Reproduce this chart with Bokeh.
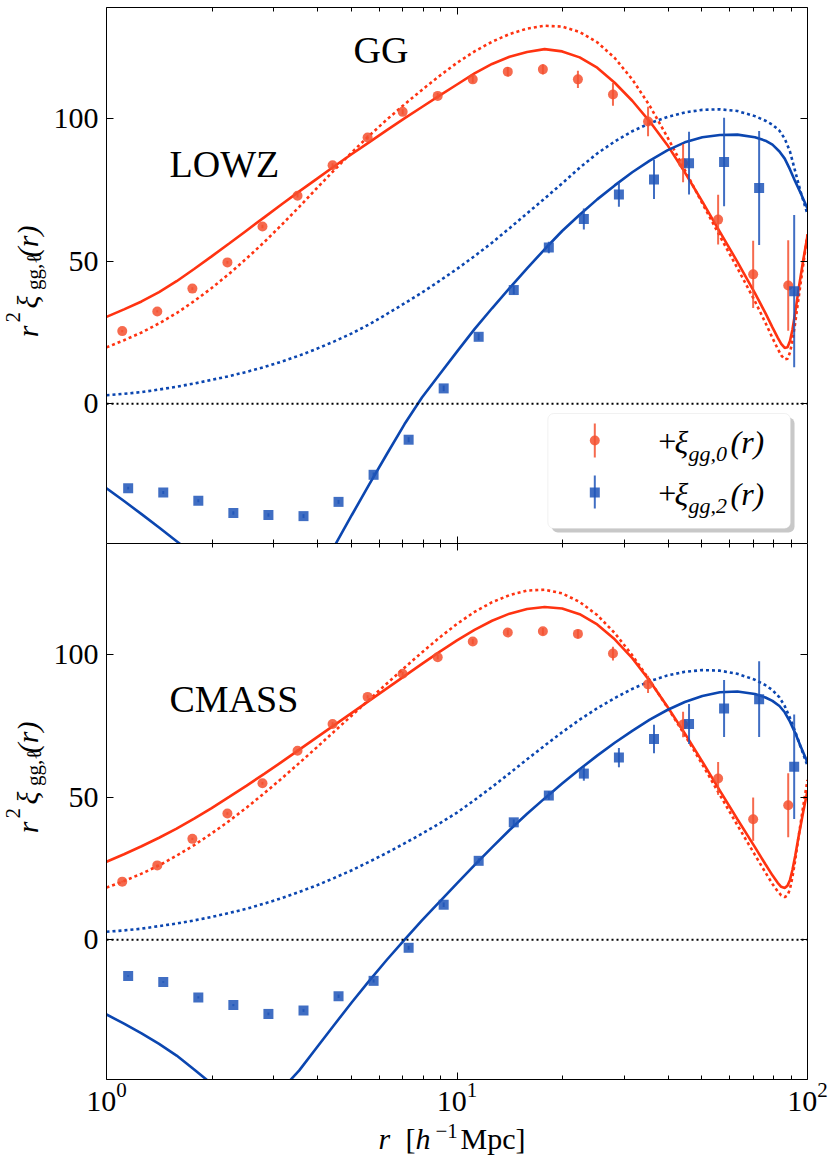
import numpy as np
from bokeh.plotting import figure
from bokeh.models import (Range1d, FixedTicker, LogTickFormatter, CustomJSTickFormatter,
                          LogAxis, LinearAxis, Span, Label, BoxAnnotation)
from bokeh.layouts import column, row
from bokeh.embed import file_html
from bokeh.resources import INLINE

# ---------------- data ----------------
r_xi0 = [1.109, 1.396, 1.758, 2.213, 2.786, 3.508, 4.416, 5.559, 6.998, 8.810,
         11.09, 13.96, 17.58, 22.13, 27.86, 35.08, 44.16, 55.59, 69.98, 88.10]
r_xi2 = [1.153, 1.452, 1.828, 2.301, 2.897, 3.648, 4.592, 5.781, 7.278, 9.162,
         11.53, 14.52, 18.28, 23.01, 28.97, 36.48, 45.92, 57.81, 72.78, 91.62]

lowz_xi0 = [25.5, 32.4, 40.4, 49.6, 62.2, 73.0, 83.7, 93.4, 102.4, 108.0,
            113.8, 116.5, 117.3, 113.8, 108.5, 99.0, 84.4, 64.6, 45.4, 41.5]
lowz_xi0_err = [0.4, 0.4, 0.5, 0.5, 0.6, 0.6, 0.7, 0.8, 0.9, 1.0,
                1.2, 1.6, 1.8, 3.0, 4.0, 5.2, 6.7, 8.7, 11.8, 15.9]
lowz_xi2 = [-29.6, -31.1, -34.0, -38.3, -39.0, -39.4, -34.4, -24.9, -12.6, 5.4,
            23.5, 39.9, 54.8, 64.8, 73.4, 78.7, 84.4, 84.8, 75.7, 39.5]
lowz_xi2_err = [0.5, 0.5, 0.5, 0.6, 0.6, 0.7, 0.7, 0.8, 0.9, 1.0,
                1.2, 1.5, 2.0, 3.7, 4.3, 6.9, 11.0, 15.5, 20.0, 26.7]

cmass_xi0 = [20.4, 26.1, 35.4, 44.3, 54.9, 66.3, 75.7, 85.2, 93.3, 99.1,
             104.6, 107.8, 108.2, 107.3, 100.4, 89.6, 75.5, 56.6, 42.3, 47.2]
cmass_xi0_err = [0.3, 0.3, 0.4, 0.4, 0.5, 0.5, 0.6, 0.6, 0.7, 0.8,
                 0.9, 1.0, 1.2, 1.5, 2.4, 3.0, 4.5, 5.8, 7.6, 11.2]
cmass_xi2 = [-12.7, -14.8, -20.2, -22.9, -26.0, -24.8, -19.8, -14.4, -2.8, 12.3,
             27.7, 41.2, 50.6, 58.3, 63.9, 70.4, 75.7, 81.1, 84.4, 60.7]
cmass_xi2_err = [0.3, 0.3, 0.4, 0.4, 0.5, 0.5, 0.6, 0.6, 0.7, 0.8,
                 0.9, 1.0, 1.5, 2.5, 3.4, 5.0, 7.0, 10.0, 13.3, 18.3]

# model curves: log10(r) positions where the curves were read, and the values
lr_a = [0, .05, .1, .15, .2, .25, .3, .35, .4, .45, .5, .55, .6, .65, .7, .75, .8, .85, .9, .95,
        1.0, 1.05, 1.1, 1.15, 1.2, 1.25, 1.3, 1.35, 1.4, 1.45, 1.5, 1.55, 1.6, 1.65, 1.7, 1.75,
        1.8, 1.85, 1.88, 1.9, 1.915, 1.925, 1.935, 1.943, 1.95, 1.957, 1.965, 1.975, 1.988, 2.0]
lowz_m0 = [30.5, 33.1, 35.9, 39.2, 43.0, 47.3, 51.7, 56.2, 60.8, 65.4, 70.0, 74.5, 78.9, 83.3,
           87.6, 91.8, 96.0, 100.1, 104.1, 108.1, 112.0, 115.9, 119.2, 121.7, 123.4, 124.4,
           123.6, 121.5, 117.9, 112.6, 106.3, 99.0, 90.8, 81.2, 70.9, 60.3, 49.8, 38.8, 31.8,
           26.8, 23.2, 21.0, 19.6, 19.8, 22.0, 26.0, 32.0, 40.5, 50.5, 59.0]
lowz_m0_lin = [19.8, 22.3, 25.0, 28.2, 31.8, 36.0, 40.6, 45.6, 51.0, 56.7, 62.8, 69.1, 75.6,
               82.0, 88.2, 94.1, 99.7, 105.0, 110.1, 115.0, 119.6, 123.6, 127.0, 129.7, 131.6,
               132.6, 132.3, 130.4, 126.8, 121.3, 113.8, 104.5, 93.6, 82.0, 70.3, 58.8, 47.6,
               36.0, 28.4, 23.1, 19.3, 17.0, 15.6, 15.8, 18.0, 22.0, 28.5, 37.5, 49.0, 59.5]
cmass_m0 = [27.4, 30.0, 32.8, 35.8, 39.0, 42.5, 46.2, 50.1, 54.1, 58.2, 62.4, 66.7, 71.0, 75.3,
            79.6, 83.9, 88.2, 92.5, 96.8, 101.0, 105.0, 108.7, 111.9, 114.4, 116.0, 116.7,
            116.2, 114.2, 110.6, 105.4, 98.8, 90.8, 81.8, 72.4, 62.5, 52.3, 42.3, 32.5, 26.5,
            22.6, 20.0, 18.6, 18.2, 19.0, 21.0, 24.5, 29.5, 36.5, 45.0, 52.4]
cmass_m0_lin = [18.3, 20.6, 23.2, 26.1, 29.5, 33.2, 37.3, 41.7, 46.4, 51.4, 56.6, 62.0, 67.5,
                73.1, 78.7, 84.3, 89.9, 95.4, 100.8, 106.0, 110.8, 115.0, 118.4, 120.9, 122.5,
                122.8, 121.5, 118.5, 113.9, 107.6, 99.8, 91.0, 81.6, 71.8, 61.5, 50.8, 40.2,
                29.8, 23.6, 19.6, 17.0, 15.6, 15.0, 15.6, 17.8, 22.0, 28.0, 36.5, 47.0, 56.1]

lr_b = [0, .05, .1, .15, .2, .25, .3, .35, .4, .45, .5, .55, .6, .65, .7, .75, .8, .85, .9, .95,
        1.0, 1.05, 1.1, 1.15, 1.2, 1.25, 1.3, 1.35, 1.4, 1.45, 1.5, 1.55, 1.6, 1.65, 1.7, 1.75,
        1.8, 1.85, 1.88, 1.9, 1.92, 1.935, 1.95, 1.965, 1.98, 2.0]
lowz_m2 = [-29.6, -34.1, -38.7, -43.4, -48.2, -53.0, -57.6, -62.0, -65.5, -67.5, -67.5, -65.5,
           -59.5, -50.0, -39.0, -28.2, -17.6, -7.2, 2.2, 10.3, 18.3, 26.2, 33.5, 40.6, 47.5,
           54.2, 60.6, 66.3, 71.7, 76.6, 81.2, 85.3, 88.9, 91.7, 93.5, 94.3, 94.4, 93.5, 92.3,
           90.9, 88.5, 86.0, 82.2, 78.0, 74.0, 68.5]
lowz_m2_lin = [3.0, 3.5, 4.1, 5.0, 6.0, 7.1, 8.4, 9.7, 11.2, 12.9, 14.8, 16.9, 19.3, 21.9, 24.7,
               27.9, 31.5, 35.2, 39.0, 43.1, 47.3, 51.8, 56.5, 61.6, 66.8, 72.0, 77.3, 82.8,
               87.8, 92.0, 95.6, 98.4, 100.6, 102.2, 103.1, 103.3, 102.7, 100.9, 99.3, 97.9,
               95.8, 93.0, 88.5, 81.5, 74.5, 66.5]
cmass_m2 = [-26.2, -29.4, -32.8, -36.5, -40.6, -45.5, -50.5, -54.5, -56.5, -56.0, -52.5, -45.8,
            -37.8, -29.8, -21.9, -14.3, -7.0, 0.0, 6.8, 13.3, 19.8, 26.2, 32.4, 38.5, 44.2,
            49.6, 54.8, 59.8, 64.6, 69.1, 73.3, 77.2, 80.6, 83.4, 85.5, 86.8, 87.1, 86.2, 85.0,
            83.8, 82.0, 79.8, 76.5, 72.5, 68.0, 62.2]
cmass_m2_lin = [2.8, 3.3, 3.9, 4.8, 5.7, 6.8, 8.0, 9.4, 10.9, 12.7, 14.6, 16.8, 19.1, 21.7, 24.4,
                27.4, 30.5, 33.8, 37.2, 40.8, 44.6, 49.0, 53.6, 58.4, 63.3, 68.1, 72.8, 77.2,
                81.2, 84.8, 88.0, 90.7, 92.7, 94.0, 94.6, 94.4, 93.3, 91.2, 89.3, 87.6, 85.0,
                82.0, 77.8, 73.0, 67.8, 61.0]

x_major_ticks = [1, 10, 100]
x_minor_ticks = [2, 3, 4, 5, 6, 7, 8, 9, 20, 30, 40, 50, 60, 70, 80, 90]
y_ticks = [0, 50, 100]

# ---------------- style ----------------
SERIF = "Liberation Serif"
RED_LINE = "#ff3311"
BLUE_LINE = "#0b46b0"
RED_PT = "#f4502f"
BLUE_PT = "#1f55b8"
X_LO, X_HI = 1.0, 100.0
Y_LO, Y_HI = -49.0, 139.0
FRAME_W, FRAME_H = 702, 536
LEFT_AUX = 50          # width of the strip that holds the rotated y label
BOTTOM_B = 40          # space under the lower panel for the tick labels
BASE_SHIFT = 0.37      # measured offset of Bokeh's text baseline (in em)

x_range = Range1d(X_LO, X_HI)


def fx(px):
    return 10 ** (np.log10(X_LO) + (np.log10(X_HI) - np.log10(X_LO)) * px / FRAME_W)


def fy(py):
    return Y_LO + (Y_HI - Y_LO) * py / FRAME_H


def style_axis(ax, labels):
    ax.axis_line_color = "black"
    ax.axis_line_width = 1
    ax.major_tick_line_color = "black"
    ax.minor_tick_line_color = "black"
    ax.major_tick_in = 7
    ax.major_tick_out = 0
    ax.minor_tick_in = 4
    ax.minor_tick_out = 0
    ax.axis_label = None
    if labels:
        ax.major_label_text_font = SERIF
        ax.major_label_text_font_size = "30px"
        ax.major_label_text_color = "black"
    else:
        ax.formatter = CustomJSTickFormatter(code="return ''")
        ax.major_label_text_font_size = "0px"
        ax.major_label_standoff = 0


def add_text(p, text, x, y, size, style="normal", angle=0.0):
    """(x, y): wanted position of the start of the baseline, frame pixels from bottom-left."""
    sh = BASE_SHIFT * size
    x2 = x - sh * np.sin(angle)
    y2 = y + sh * np.cos(angle)
    p.add_layout(Label(x=x2, y=y2, x_units="screen", y_units="screen", text=text,
                       text_font=SERIF, text_font_size=f"{size}px", text_font_style=style,
                       text_color="black", text_align="left", text_baseline="alphabetic",
                       angle=angle))


def blank(width, height):
    f = figure(width=width, height=height, x_range=Range1d(0, 1), y_range=Range1d(0, 1),
               x_axis_location=None, y_axis_location=None, output_backend="svg",
               toolbar_location=None, min_border=0)
    f.grid.visible = False
    f.outline_line_color = None
    return f


def ylabel_strip(height, y0):
    s = blank(LEFT_AUX, height)
    a = np.pi / 2
    add_text(s, "r", 38, y0 + 206.3, 30, "italic", a)
    add_text(s, "2", 20, y0 + 221, 21, "normal", a)
    add_text(s, "ξ", 38, y0 + 235, 30, "italic", a)
    add_text(s, "gg,ℓ", 41.5, y0 + 253.5, 21, "normal", a)
    add_text(s, "(r)", 38, y0 + 286.3, 30, "italic", a)
    return s


def make_panel(height, b_top, b_bottom, xlabels, xi0, e0, xi2, e2,
               m0, m0_lin, m2, m2_lin, name, name_xy):
    p = figure(width=832 - LEFT_AUX, height=height, x_axis_type="log", x_range=x_range,
               y_range=Range1d(Y_LO, Y_HI), output_backend="svg", toolbar_location=None,
               min_border_left=105 - LEFT_AUX, min_border_right=25, min_border_top=b_top,
               min_border_bottom=b_bottom)
    p.grid.visible = False
    p.outline_line_color = None
    p.background_fill_color = "white"
    p.border_fill_color = "white"

    bx = p.below[0]
    bx.ticker = FixedTicker(ticks=x_major_ticks, minor_ticks=x_minor_ticks)
    style_axis(bx, xlabels)
    if xlabels:
        bx.formatter = LogTickFormatter()
        bx.major_label_standoff = 3
    ly = p.left[0]
    ly.ticker = FixedTicker(ticks=y_ticks, minor_ticks=[])
    style_axis(ly, True)
    ly.major_label_standoff = 8

    tx = LogAxis(ticker=FixedTicker(ticks=x_major_ticks, minor_ticks=x_minor_ticks))
    style_axis(tx, False)
    p.add_layout(tx, "above")
    ry = LinearAxis(ticker=FixedTicker(ticks=y_ticks, minor_ticks=[]))
    style_axis(ry, False)
    p.add_layout(ry, "right")

    p.add_layout(Span(location=0, dimension="width", line_color="black",
                      line_dash="2 3", line_width=2))

    for (lr, vals), col, dash in [(m0_lin, RED_LINE, "3 3"), (m2_lin, BLUE_LINE, "3 3"),
                                  (m0, RED_LINE, "solid"), (m2, BLUE_LINE, "solid")]:
        p.line(x=10 ** np.array(lr), y=vals, line_color=col, line_width=2.6, line_dash=dash)

    for r, v, e, col, mk in [(r_xi0, xi0, e0, RED_PT, "circle"),
                             (r_xi2, xi2, e2, BLUE_PT, "square")]:
        v = np.array(v); e = np.array(e)
        p.segment(x0=r, y0=v - e, x1=r, y1=v + e, line_color=col, line_alpha=0.85, line_width=2)
        p.scatter(x=r, y=v, marker=mk, size=10, fill_color=col, fill_alpha=0.85, line_color=None)

    for txt, (x, y) in zip(name, name_xy):
        add_text(p, txt, x, y, 38)
    return p


top = make_panel(543, 7, 0, False, lowz_xi0, lowz_xi0_err, lowz_xi2, lowz_xi2_err,
                 (lr_a, lowz_m0), (lr_a, lowz_m0_lin), (lr_b, lowz_m2), (lr_b, lowz_m2_lin),
                 ["GG", "LOWZ"], [(247, 479.4), (63, 365)])
bot = make_panel(536 + BOTTOM_B, 0, BOTTOM_B, True, cmass_xi0, cmass_xi0_err, cmass_xi2,
                 cmass_xi2_err, (lr_a, cmass_m0), (lr_a, cmass_m0_lin), (lr_b, cmass_m2),
                 (lr_b, cmass_m2_lin), ["CMASS"], [(63, 366.3)])

# legend (top panel)
top.add_layout(BoxAnnotation(left=fx(446), right=fx(689), bottom=fy(11), top=fy(126),
                             fill_color="#9a9a9a", fill_alpha=0.55, line_color=None,
                             border_radius=6))
top.add_layout(BoxAnnotation(left=fx(442), right=fx(685), bottom=fy(15), top=fy(130),
                             fill_color="white", fill_alpha=1.0, line_color="#cfcfcf",
                             line_width=1, border_radius=6))
for yc, (b0, b1), col, mk, sub in [(103, (86, 120), RED_PT, "circle", "gg,0"),
                                    (51, (35, 68), BLUE_PT, "square", "gg,2")]:
    s = top.segment(x0=[fx(489)], y0=[fy(b0)], x1=[fx(489)], y1=[fy(b1)], line_color=col,
                    line_alpha=0.85, line_width=2)
    s.level = "overlay"
    m = top.scatter(x=[fx(489)], y=[fy(yc)], marker=mk, size=10, fill_color=col,
                    fill_alpha=0.85, line_color=None)
    m.level = "overlay"
    base = yc - 13
    add_text(top, "+", 551.7, base, 32)
    add_text(top, "ξ", 568, base, 32, "italic")
    add_text(top, sub, 582, base - 8, 22, "italic")
    add_text(top, "(r)", 624, base, 32, "italic")

# y labels
ylab_top = ylabel_strip(543, 0)
ylab_bot = ylabel_strip(536 + BOTTOM_B, BOTTOM_B)

# x label  r [h^-1 Mpc]
xh = 1158 - 543 - 536 - BOTTOM_B
xlab = blank(832, xh)
add_text(xlab, "r", 378, 9, 30, "italic")
add_text(xlab, "[", 405, 9, 30)
add_text(xlab, "h", 415, 9, 30, "italic")
add_text(xlab, "−1", 435, 19.5, 21)
add_text(xlab, "Mpc]", 460, 9, 30)

layout = column(row(ylab_top, top, spacing=0), row(ylab_bot, bot, spacing=0), xlab, spacing=0)
open("out.html", "w").write(file_html(layout, INLINE))
